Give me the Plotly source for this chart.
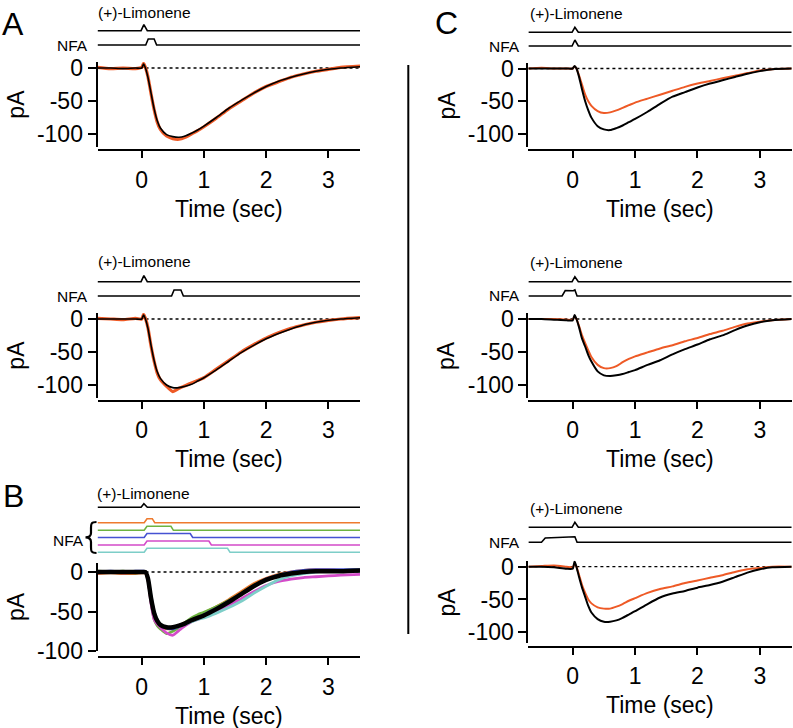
import plotly.graph_objects as go

W, H = 793, 728
FONT = "Liberation Sans, Arial, Helvetica, sans-serif"

# ---------------- data ----------------
TIME_RANGE = [-0.71, 3.51]
X_TICKS = [0, 1, 2, 3]
X_TICK_TEXT = ["0", "1", "2", "3"]
Y_TICKS = [-100, -50, 0]
Y_TICK_TEXT = ["-100", "-50", "0"]

t_grid = [-0.71, -0.5, -0.3, -0.1, 0.0, 0.03, 0.06, 0.1, 0.15, 0.2, 0.25, 0.3, 0.4,
          0.5, 0.6, 0.7, 0.8, 0.9, 1.0, 1.2, 1.4, 1.6, 1.8, 2.0, 2.2, 2.4, 2.6,
          2.8, 3.0, 3.2, 3.51]

# currents (pA)
a1_black = [0, 0, -1, 0, 0, 6, 0, -14, -38, -62, -80, -91, -101, -104, -105, -103, -99, -94,
            -88, -75, -61, -49, -38, -28, -20, -14, -9, -5, -2, 0, 2]
a1_orange = [1, -1, 0, -1, 1, 7, 1, -13, -39, -63, -82, -93, -103, -107, -108, -105, -100, -95,
             -89, -76, -62, -50, -38, -28, -21, -14, -9, -5, -2, 1, 3]
a2_black = [0, 0, 0, 0, 0, 6, 0, -14, -40, -63, -80, -90, -100, -104, -104, -102, -99, -94,
            -89, -77, -64, -51, -40, -30, -22, -15, -9, -5, -2, 0, 2]
a2_orange = [1, 0, -1, 1, 0, 7, 1, -13, -41, -64, -82, -92, -102, -110, -105, -101, -97, -93,
             -89, -76, -63, -50, -39, -29, -21, -14, -9, -5, -2, 0, 2]

b_black = [0, 0, 0, 0, 0, 0, 0, -8, -33, -52, -62, -67, -70, -70, -68, -65, -61, -58,
           -55, -47, -38, -28, -18, -10, -5, -2, 0, 1, 1, 1, 2]
b_orange = [-2, -1, -2, -2, -1, -1, -1, -10, -36, -55, -64, -69, -72, -71, -68, -64, -60, -56,
            -52, -44, -35, -25, -15, -8, -3, 0, 2, 3, 3, 2, 2]
b_green = [1, 0, 1, -1, 0, 0, 0, -9, -38, -60, -68, -72, -78, -75, -70, -64, -58, -54,
           -51, -44, -36, -27, -17, -10, -4, -1, 1, 2, 2, 2, 3]
b_blue = [0, 1, 0, 1, 1, 1, 0, -7, -32, -52, -63, -68, -71, -72, -69, -66, -62, -58,
          -54, -46, -37, -28, -18, -9, -4, 0, 2, 3, 3, 3, 3]
b_magenta = [-1, 0, -1, 0, 0, 0, 0, -9, -40, -60, -66, -70, -77, -80, -74, -68, -63, -60,
             -57, -50, -42, -34, -25, -17, -12, -9, -7, -6, -5, -4, -3]
b_cyan = [0, 0, 0, 0, 0, 0, 0, -7, -30, -50, -60, -66, -70, -70, -69, -66, -63, -60,
          -58, -52, -45, -37, -27, -18, -10, -5, -2, 0, 1, 1, 1]

c1_black = [0, 0, 0, 0, 0, 4, 0, -12, -32, -50, -64, -75, -88, -93, -94, -91, -87, -82,
            -77, -66, -54, -43, -36, -29, -23, -18, -13, -8, -4, -1, 0]
c1_orange = [0, 1, 0, 0, 0, 3, 0, -10, -25, -40, -50, -57, -65, -68, -67, -64, -60, -56,
             -52, -46, -40, -34, -28, -23, -19, -15, -11, -7, -3, -1, 0]
c2_black = [0, 0, -1, -2, -2, 6, 0, -12, -30, -42, -55, -65, -80, -86, -87, -86, -84, -81,
            -78, -70, -63, -54, -46, -39, -31, -25, -17, -10, -5, -2, 0]
c2_orange = [0, 0, 0, -1, -1, 4, 0, -10, -25, -37, -48, -58, -70, -75, -75, -72, -66, -61,
             -57, -51, -45, -40, -34, -29, -23, -18, -12, -7, -4, -2, 0]
c3_black = [0, 0, -1, -3, -3, 8, 0, -15, -32, -46, -60, -70, -80, -84, -84, -82, -78, -73,
            -68, -57, -47, -41, -37, -32, -28, -23, -16, -9, -4, -1, 0]
c3_orange = [0, 1, 2, 0, -1, 4, 0, -12, -28, -40, -50, -56, -62, -64, -64, -61, -57, -52,
             -48, -40, -34, -30, -25, -21, -17, -13, -8, -4, -2, 0, 0]

# stimulus command traces (time in sec, relative level 0..1)
lim_t = [-0.71, -0.01, 0.035, 0.09, 3.51]
lim_v = [0, 0, 1, 0, 0]
nfa_a1_t = [-0.71, 0.065, 0.105, 0.2, 0.24, 3.51]
nfa_a1_v = [0, 0, 1, 1, 0, 0]
nfa_a2_t = [-0.71, 0.48, 0.52, 0.63, 0.67, 3.51]
nfa_a2_v = [0, 0, 1, 1, 0, 0]
nfa_c1_t = [-0.71, -0.01, 0.035, 0.09, 3.51]
nfa_c1_v = [0, 0, 1, 0, 0]
nfa_c2_t = [-0.71, -0.17, -0.12, 0.01, 0.035, 0.07, 3.51]
nfa_c2_v = [0, 0, 1, 0.95, 1.1, 0, 0]
nfa_c3_t = [-0.71, -0.5, -0.44, 0.0, 0.035, 0.07, 3.51]
nfa_c3_v = [0, 0, 0.85, 1, 1.1, 0, 0]
nfa_b_orange_t = [-0.71, 0.04, 0.085, 0.17, 0.21, 3.51]
nfa_b_green_t = [-0.71, 0.04, 0.085, 0.47, 0.51, 3.51]
nfa_b_blue_t = [-0.71, 0.04, 0.085, 0.78, 0.82, 3.51]
nfa_b_magenta_t = [-0.71, 0.04, 0.085, 1.08, 1.12, 3.51]
nfa_b_cyan_t = [-0.71, 0.04, 0.085, 1.38, 1.42, 3.51]
nfa_b_v = [0, 0, 1, 1, 0, 0]

# ---------------- styling ----------------
RED = "#EE5A26"
B_ORANGE = "#EE7A2E"
B_GREEN = "#6DB33F"
B_BLUE = "#4652D2"
B_MAGENTA = "#D44BC9"
B_CYAN = "#7DCEC8"
BLACK = "#000000"


def px_x(p):
    return p / W


def px_y(p):
    return 1 - p / H


# panel geometry (pixel layout)
PANELS = [
    dict(t0=141.7, pps=62.2, zero=68.0, scale=0.66, yr=[-120, 9], xax=150.0, ylab=16),
    dict(t0=141.7, pps=62.2, zero=319.0, scale=0.66, yr=[-120, 9], xax=400.7, ylab=16),
    dict(t0=141.7, pps=62.2, zero=572.0, scale=0.79, yr=[-100, 11.5], xax=657.0, ylab=16),
    dict(t0=572.7, pps=62.4, zero=68.5, scale=0.655, yr=[-120, 9], xax=150.0, ylab=446.7),
    dict(t0=572.7, pps=62.4, zero=319.0, scale=0.655, yr=[-120, 9], xax=400.7, ylab=446.7),
    dict(t0=572.7, pps=62.4, zero=566.7, scale=0.655, yr=[-116, 9], xax=646.7, ylab=446.7),
]

# current traces per panel: (values, color, width)
CURRENTS = [
    [(a1_orange, RED, 3.2), (a1_black, BLACK, 1.6)],
    [(a2_orange, RED, 3.2), (a2_black, BLACK, 1.6)],
    [(b_orange, B_ORANGE, 2.8), (b_green, B_GREEN, 2.8), (b_blue, B_BLUE, 2.8),
     (b_magenta, B_MAGENTA, 2.8), (b_cyan, B_CYAN, 2.8), (b_black, BLACK, 4.5)],
    [(c1_orange, RED, 2.0), (c1_black, BLACK, 2.0)],
    [(c2_orange, RED, 2.0), (c2_black, BLACK, 2.0)],
    [(c3_orange, RED, 2.0), (c3_black, BLACK, 2.0)],
]

# stimulus channels: (panel index, t, v, baseline px, amplitude px, color)
STIMS = [
    (0, lim_t, lim_v, 30.7, 6, BLACK), (0, nfa_a1_t, nfa_a1_v, 45.0, 6, BLACK),
    (1, lim_t, lim_v, 281.7, 6, BLACK), (1, nfa_a2_t, nfa_a2_v, 296.0, 6, BLACK),
    (2, lim_t, lim_v, 507.3, 3.5, BLACK),
    (2, nfa_b_orange_t, nfa_b_v, 522.7, 4, B_ORANGE),
    (2, nfa_b_green_t, nfa_b_v, 530.3, 4, B_GREEN),
    (2, nfa_b_blue_t, nfa_b_v, 537.5, 4, B_BLUE),
    (2, nfa_b_magenta_t, nfa_b_v, 545.0, 4, B_MAGENTA),
    (2, nfa_b_cyan_t, nfa_b_v, 552.3, 4, B_CYAN),
    (3, lim_t, lim_v, 32.3, 5, BLACK), (3, nfa_c1_t, nfa_c1_v, 46.0, 6, BLACK),
    (4, lim_t, lim_v, 281.7, 5, BLACK), (4, nfa_c2_t, nfa_c2_v, 296.0, 5.5, BLACK),
    (5, lim_t, lim_v, 527.3, 5, BLACK), (5, nfa_c3_t, nfa_c3_v, 542.3, 5, BLACK),
]

# stimulus text labels: (text, x px, y px, anchor)
STIM_LABELS = [
    ("(+)-Limonene", 96, 12.5, "left"), ("NFA", 89.5, 45.0, "right"),
    ("(+)-Limonene", 96, 261.7, "left"), ("NFA", 89.5, 296.0, "right"),
    ("(+)-Limonene", 95, 493.0, "left"), ("NFA", 85.5, 540.0, "right"),
    ("(+)-Limonene", 528, 13.5, "left"), ("NFA", 522, 46.0, "right"),
    ("(+)-Limonene", 528, 262.7, "left"), ("NFA", 522, 295.5, "right"),
    ("(+)-Limonene", 528, 508.3, "left"), ("NFA", 522, 542.0, "right"),
]
PANEL_LETTERS = [("A", 12.5, 24.5), ("B", 13, 496), ("C", 446, 22.5)]


def name(kind, i):
    return f"{kind}axis" if i == 1 else f"{kind}axis{i}"


def ref(kind, i):
    return kind if i == 1 else f"{kind}{i}"


fig = go.Figure()
layout = {}
annotations = []

for i, p in enumerate(PANELS, start=1):
    x0 = p["t0"] + TIME_RANGE[0] * p["pps"]
    x1 = p["t0"] + TIME_RANGE[1] * p["pps"]
    top = p["zero"] - p["yr"][1] * p["scale"]
    bot = p["zero"] - p["yr"][0] * p["scale"]
    layout[name("x", i)] = dict(
        domain=[px_x(x0), px_x(x1)], range=TIME_RANGE, anchor="free", automargin=False,
        position=px_y(p["xax"]), showline=True, linewidth=2, linecolor="black",
        ticks="outside", ticklen=7, tickwidth=2, tickcolor="black",
        tickvals=X_TICKS, ticktext=X_TICK_TEXT, showgrid=False, zeroline=False,
        tickfont=dict(size=23, color="black", family=FONT), ticklabelstandoff=2,
    )
    layout[name("y", i)] = dict(
        domain=[px_y(bot), px_y(top)], range=p["yr"], anchor=ref("x", i), automargin=False,
        showline=True, linewidth=2, linecolor="black", ticks="outside", ticklen=8,
        tickwidth=2, tickcolor="black", tickvals=Y_TICKS, ticktext=Y_TICK_TEXT,
        showgrid=False, zeroline=False,
        tickfont=dict(size=23, color="black", family=FONT),
    )
    # dotted zero reference
    fig.add_trace(go.Scatter(x=TIME_RANGE, y=[0, 0], mode="lines",
                             line=dict(color="black", width=1.3, dash="3px,3px"),
                             xaxis=ref("x", i), yaxis=ref("y", i), hoverinfo="skip"))
    for vals, col, wid in CURRENTS[i - 1]:
        fig.add_trace(go.Scatter(x=t_grid, y=vals, mode="lines",
                                 line=dict(color=col, width=wid, shape="spline", smoothing=0.6),
                                 xaxis=ref("x", i), yaxis=ref("y", i)))
    # axis titles
    annotations.append(dict(text="pA", x=px_x(p["ylab"]), y=px_y((top + bot) / 2),
                            xref="paper", yref="paper", showarrow=False, textangle=-90,
                            font=dict(size=23, family=FONT, color="black"),
                            xanchor="center", yanchor="middle"))
    annotations.append(dict(text="Time (sec)", x=px_x((x0 + x1) / 2), y=px_y(p["xax"] + 58.5),
                            xref="paper", yref="paper", showarrow=False,
                            font=dict(size=23, family=FONT, color="black"),
                            xanchor="center", yanchor="middle"))

n = len(PANELS)
for k, (pi, ts, vs, base, amp, col) in enumerate(STIMS):
    yi = n + 1 + k
    layout[name("y", yi)] = dict(
        domain=[px_y(base + 0.5 * amp), px_y(base - 1.5 * amp)], range=[-0.5, 1.5],
        anchor=ref("x", pi + 1), visible=False, showgrid=False, zeroline=False,
        automargin=False,
    )
    fig.add_trace(go.Scatter(x=ts, y=vs, mode="lines", line=dict(color=col, width=1.6),
                             xaxis=ref("x", pi + 1), yaxis=ref("y", yi)))

for txt, x, y, anc in STIM_LABELS:
    annotations.append(dict(text=txt, x=px_x(x), y=px_y(y), xref="paper", yref="paper",
                            showarrow=False, xanchor=anc, yanchor="middle",
                            font=dict(size=15.5, family=FONT, color="black")))
for txt, x, y in PANEL_LETTERS:
    annotations.append(dict(text=txt, x=px_x(x), y=px_y(y), xref="paper", yref="paper",
                            showarrow=False, xanchor="center", yanchor="middle",
                            font=dict(size=32, family=FONT, color="black")))

# brace in front of the NFA traces of panel B
brace_px = [(96.5, 522), (91, 522), (91, 524), (91, 528), (91, 533), (91, 536.5), (89, 537.3),
            (85.5, 537.3), (89, 537.3), (91, 538.5), (91, 542), (91, 547), (91, 551), (91, 553),
            (96.5, 553)]
pts = [f"{px_x(a):.5f},{px_y(b):.5f}" for a, b in brace_px]
brace_path = (f"M {pts[0]} C {pts[1]} {pts[2]} {pts[3]} L {pts[4]} C {pts[5]} {pts[6]} {pts[7]} "
              f"C {pts[8]} {pts[9]} {pts[10]} L {pts[11]} C {pts[12]} {pts[13]} {pts[14]}")

shapes = [
    dict(type="line", xref="paper", yref="paper", x0=px_x(408.3), x1=px_x(408.3),
         y0=px_y(65), y1=px_y(634), line=dict(color="black", width=2)),
    dict(type="path", xref="paper", yref="paper", path=brace_path,
         line=dict(color="black", width=2.2)),
]

fig.update_layout(
    template="none",
    width=W, height=H, autosize=False, margin=dict(l=0, r=0, t=0, b=0, pad=0),
    showlegend=False, paper_bgcolor="white", plot_bgcolor="rgba(0,0,0,0)",
    font=dict(family=FONT, color="black"), annotations=annotations, shapes=shapes,
    **layout,
)

fig.write_html(
    "out.html",
    config={"displayModeBar": False},
    post_script="document.body.style.margin='0';document.body.style.overflow='hidden';",
)
